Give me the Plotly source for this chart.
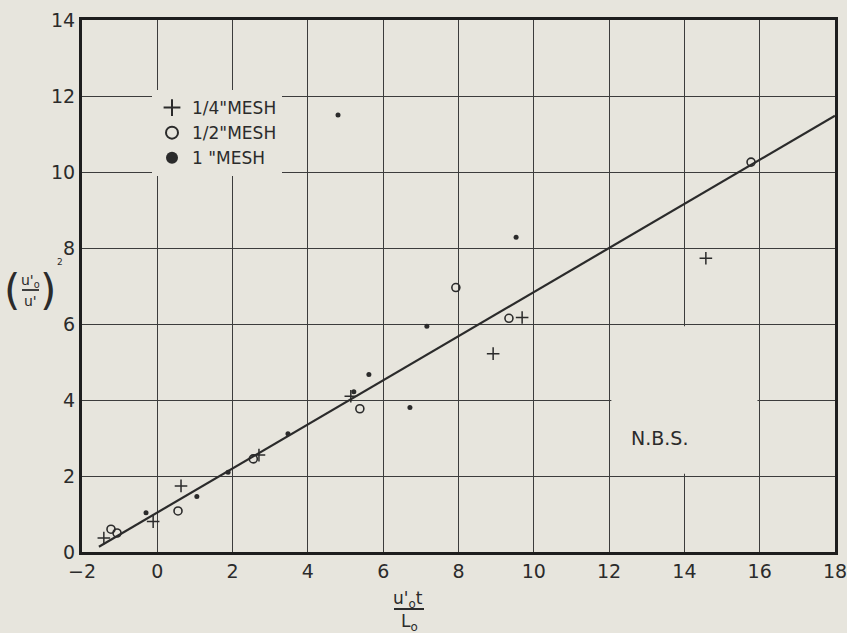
import plotly.graph_objects as go

# ---- data ----
mesh_quarter_x = [-1.42, -0.11, 0.63, 2.70, 5.14, 8.92, 9.69, 14.57]
mesh_quarter_y = [0.37, 0.80, 1.74, 2.55, 4.10, 5.22, 6.17, 7.73]

mesh_half_x = [-1.23, -1.07, 0.55, 2.55, 5.38, 7.93, 9.34, 15.77]
mesh_half_y = [0.60, 0.50, 1.08, 2.45, 3.77, 6.96, 6.15, 10.26]

mesh_one_x = [-0.30, 1.05, 1.88, 3.47, 4.80, 5.22, 5.62, 6.71, 7.16, 9.53]
mesh_one_y = [1.03, 1.46, 2.10, 3.11, 11.50, 4.22, 4.67, 3.80, 5.94, 8.28]

fit_x = [-1.55, 18.0]
fit_y = [0.14, 11.48]

x_ticks = [-2, 0, 2, 4, 6, 8, 10, 12, 14, 16, 18]
y_ticks = [0, 2, 4, 6, 8, 10, 12, 14]

PAPER = "#e7e5dd"
INK = "#2b2b2b"
FONT = "DejaVu Sans"

fig = go.Figure()

fig.add_trace(go.Scatter(x=fit_x, y=fit_y, mode="lines",
                         line=dict(color=INK, width=2.2), showlegend=False,
                         hoverinfo="skip"))
fig.add_trace(go.Scatter(x=mesh_quarter_x, y=mesh_quarter_y, mode="markers",
                         name='1/4"MESH',
                         marker=dict(symbol="cross-thin-open", size=9,
                                     line=dict(color=INK, width=1.5), color=INK)))
fig.add_trace(go.Scatter(x=mesh_half_x, y=mesh_half_y, mode="markers",
                         name='1/2"MESH',
                         marker=dict(symbol="circle-open", size=8,
                                     line=dict(color=INK, width=1.6), color=INK)))
fig.add_trace(go.Scatter(x=mesh_one_x, y=mesh_one_y, mode="markers",
                         name='1 "MESH',
                         marker=dict(symbol="circle", size=5, color=INK)))

W, H = 847, 633
# intended plot frame in pixels
FX0, FX1, FY0, FY1 = 82, 835, 20, 552
L, R, T, B = FX0, W - FX1, FY0, H - FY1


def px(x):
    return (x - FX0) / (FX1 - FX0)


def py(y):
    return (FY1 - y) / (FY1 - FY0)


axis_common = dict(showgrid=True, gridcolor="#3c3c3c", gridwidth=1.4,
                   zeroline=False, showline=True, linecolor="#1e1e1e",
                   linewidth=3, mirror=True, ticks="", dtick=2,
                   automargin=False, ticklabeloverflow="allow",
                   tickfont=dict(family=FONT, size=19, color=INK))

fig.update_xaxes(range=[-2, 18], tickvals=x_ticks,
                 ticktext=["\u22122" if v < 0 else str(v) for v in x_ticks],
                 **axis_common)
fig.update_yaxes(range=[0, 14], tickvals=y_ticks,
                 ticktext=[str(v) for v in y_ticks], **axis_common)

# blank cell behind the N.B.S. label (grid removed there)
fig.add_shape(type="rect", x0=12.06, x1=15.94, y0=2.06, y1=5.94,
              xref="x", yref="y", fillcolor=PAPER, line=dict(width=0),
              layer="between")

fig.add_annotation(x=13.35, y=3.0, xref="x", yref="y", text="N.B.S.",
                   showarrow=False, font=dict(family=FONT, size=19, color=INK))


def label(x, y, text, size):
    fig.add_annotation(x=px(x), y=py(y), xref="paper", yref="paper",
                       text=text, showarrow=False, xanchor="center",
                       yanchor="middle",
                       font=dict(family=FONT, size=size, color=INK))


# x-axis label as a fraction
label(408, 599, "u'<sub>o</sub>t", 17)
fig.add_shape(type="line", x0=px(394), x1=px(424), y0=py(609), y1=py(609),
              xref="paper", yref="paper", line=dict(color=INK, width=2))
label(409, 622, "L<sub>o</sub>", 17)

# y-axis label as a fraction in parentheses, squared
label(30, 281, "u'<sub>o</sub>", 14)
fig.add_shape(type="line", x0=px(22), x1=px(39), y0=py(290), y1=py(290),
              xref="paper", yref="paper", line=dict(color=INK, width=1.8))
label(30, 301, "u'", 14)
label(12, 290, "(", 42)
label(48, 290, ")", 42)
label(60, 262, "2", 9)

fig.update_layout(
    width=W, height=H, autosize=False,
    margin=dict(l=L, r=R, t=T, b=B, pad=0),
    paper_bgcolor=PAPER, plot_bgcolor=PAPER,
    font=dict(family=FONT, color=INK),
    legend=dict(x=px(152), y=py(90), xanchor="left", yanchor="top",
                bgcolor=PAPER, borderwidth=0, tracegroupgap=0,
                font=dict(family=FONT, size=17, color=INK),
                itemsizing="constant", itemwidth=30),
)

fig.write_html("out.html",
               config={"displayModeBar": False, "responsive": False},
               post_script="document.body.style.margin='0px';"
                           "document.body.style.overflow='hidden';")
